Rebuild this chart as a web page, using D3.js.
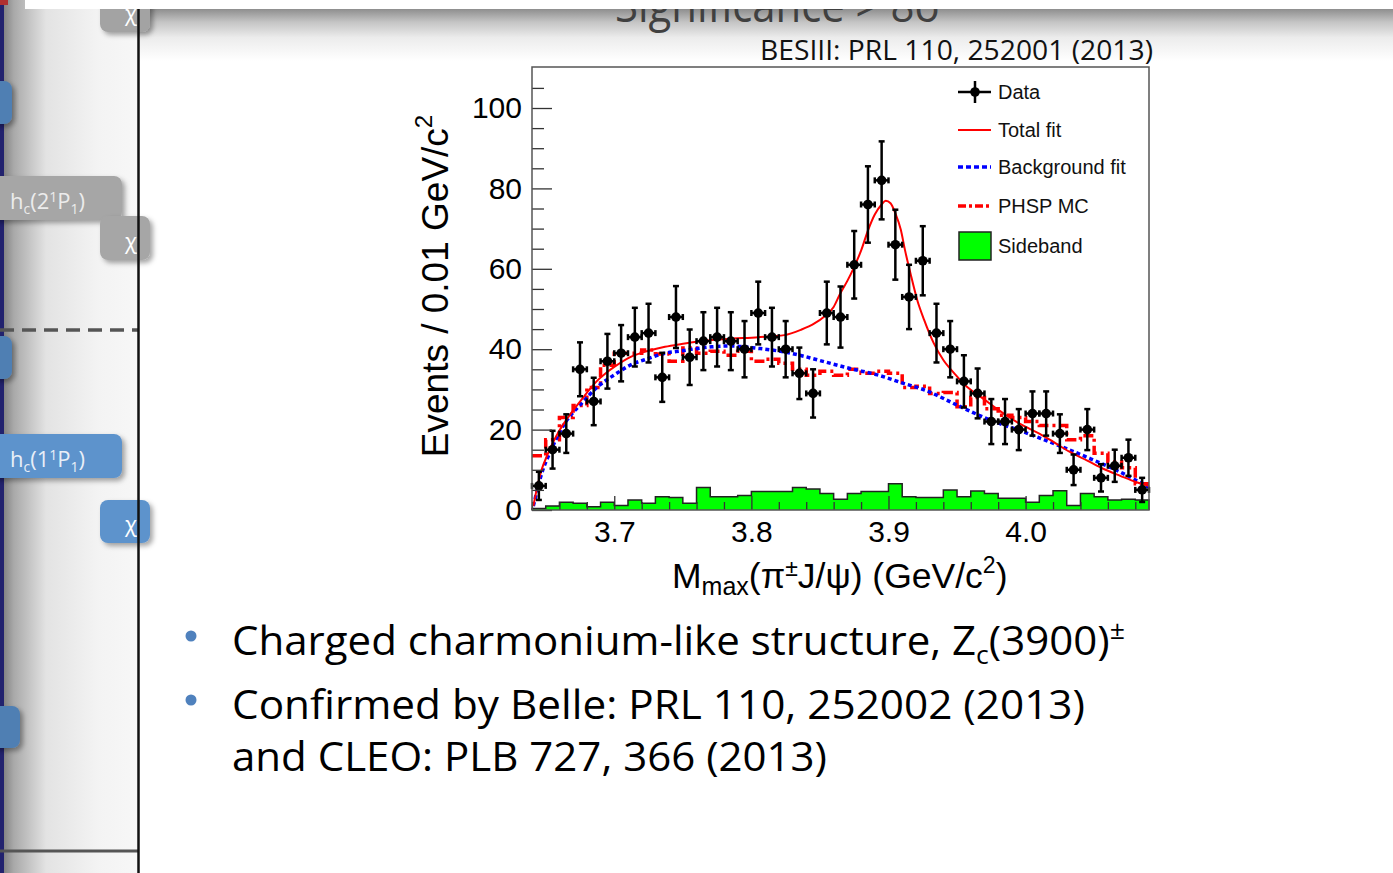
<!DOCTYPE html>
<html>
<head>
<meta charset="utf-8">
<script src="https://cdn.jsdelivr.net/npm/d3@7/dist/d3.min.js"></script>
<style>
  body { margin: 0; background: #fff; }
  svg { display: block; }
</style>
</head>
<body>
<script>
// data (counts per 0.01 GeV bin)
var binCenters = [3.645, 3.655, 3.665, 3.675, 3.685, 3.695, 3.705, 3.715, 3.725, 3.735,
  3.745, 3.755, 3.765, 3.775, 3.785, 3.795, 3.805, 3.815, 3.825, 3.835,
  3.845, 3.855, 3.865, 3.875, 3.885, 3.895, 3.905, 3.915, 3.925, 3.935,
  3.945, 3.955, 3.965, 3.975, 3.985, 3.995, 4.005, 4.015, 4.025, 4.035,
  4.045, 4.055, 4.065, 4.075, 4.085];
var dataCounts = [6, 15, 19, 35, 27, 37, 39, 43, 44, 33,
  48, 38, 42, 43, 42, 40, 49, 43, 40, 34,
  29, 49, 48, 61, 76, 82, 66, 53, 62, 44,
  40, 32, 29, 22, 22, 20, 24, 24, 19, 10,
  20, 8, 11, 13, 5];
var dataErrors = [3.5, 4.7, 4.8, 6.7, 5.9, 6.8, 7.0, 7.3, 7.3, 6.1,
  7.7, 6.9, 7.2, 7.3, 7.2, 7.0, 7.8, 7.3, 7.0, 6.4,
  6.0, 7.8, 7.6, 8.4, 9.5, 9.7, 8.7, 8.0, 8.6, 7.3,
  7.0, 6.5, 6.2, 5.6, 5.6, 5.1, 5.5, 5.5, 4.8, 3.8,
  5.1, 3.4, 4.0, 4.5, 3.0];
var sidebandCounts = [0.4, 1.0, 1.9, 1.7, 0.8, 1.9, 1.1, 2.5, 1.7, 3.3,
  3.1, 1.7, 5.6, 3.3, 3.3, 3.6, 4.6, 4.6, 4.6, 5.6,
  5.2, 4.1, 2.7, 4.1, 4.6, 4.6, 6.5, 3.3, 3.1, 3.1,
  5.0, 3.3, 4.7, 4.1, 2.9, 2.9, 1.9, 3.6, 4.8, 1.1,
  4.1, 3.3, 2.5, 2.7, 2.5];
var phspCounts = [13.5, 17.5, 23, 26, 30.5, 36, 39, 39, 39.8, 38.8,
  37, 40.3, 39, 39.5, 38.5, 39.5, 37, 37.5, 36.5, 35,
  33.5, 34.5, 33.5, 35, 34, 34.5, 34, 30.5, 30.8, 29,
  29.2, 25.7, 28, 25.2, 23.6, 23, 22, 21, 21, 17.5,
  18.5, 14.1, 12, 10.5, 6.5];
var totalFitMass = [3.641, 3.644, 3.647, 3.651, 3.655, 3.660, 3.665, 3.670, 3.676, 3.682,
  3.688, 3.694, 3.700, 3.712, 3.725, 3.737, 3.749, 3.761, 3.780, 3.805,
  3.824, 3.836, 3.846, 3.853, 3.860, 3.865, 3.870, 3.875, 3.880, 3.885,
  3.890, 3.895, 3.898, 3.9015, 3.905, 3.909, 3.912, 3.916, 3.921, 3.926,
  3.933, 3.940, 3.948, 3.957, 3.967, 3.977, 3.986, 3.996, 4.010, 4.020,
  4.032, 4.045, 4.057, 4.069, 4.081, 4.090];
var totalFitValue = [1, 6, 10, 13.5, 16.6, 19.8, 22.4, 24.8, 27.4, 30,
  32.3, 34.1, 35.6, 38.1, 39.6, 40.6, 41.3, 41.9, 42.5, 43,
  43.5, 44.8, 46.4, 48.1, 50.5, 54, 57, 60.5, 64.5, 69.5,
  73.5, 76, 76.9, 76.3, 73.8, 69.7, 64.7, 58.9, 52.2, 47.3,
  41.5, 37.3, 34, 30.7, 28.2, 25.7, 23.5, 21.4, 19, 17,
  14.5, 12.3, 10.2, 8.5, 6.9, 6];
var bkgFitMass = [3.641, 3.647, 3.654, 3.664, 3.676, 3.688, 3.700, 3.712, 3.725, 3.737,
  3.749, 3.761, 3.771, 3.785, 3.805, 3.819, 3.834, 3.853, 3.872, 3.892,
  3.911, 3.926, 3.950, 3.974, 3.998, 4.023, 4.047, 4.071, 4.090];
var bkgFitValue = [1, 9, 15, 21.6, 26.5, 30.7, 33.6, 36.1, 37.7, 39,
  39.6, 40.2, 40.6, 40.8, 40.2, 39.6, 38.6, 36.9, 35.2, 33.6,
  31.5, 29.9, 26.1, 22.4, 19.5, 16.2, 12.8, 9.1, 5.6];
var xTickValues = [3.7, 3.8, 3.9, 4.0];
var xTickLabels = ["3.7", "3.8", "3.9", "4.0"];
var xMinorTicks = [3.64, 3.66, 3.68, 3.72, 3.74, 3.76, 3.78, 3.82, 3.84, 3.86, 3.88,
  3.92, 3.94, 3.96, 3.98, 4.02, 4.04, 4.06, 4.08];
var yTickValues = [0, 20, 40, 60, 80, 100];
var yMinorTicks = [5, 10, 15, 25, 30, 35, 45, 50, 55, 65, 70, 75, 85, 90, 95, 105];
var legendLabels = ["Data", "Total fit", "Background fit", "PHSP MC", "Sideband"];

var svg = d3.select("body").append("svg")
  .attr("width", 1393)
  .attr("height", 873);

var defs = svg.append("defs");

// left side panel gradient
var lg = defs.append("linearGradient").attr("id", "panelGrad");
lg.append("stop").attr("offset", "0").attr("stop-color", "#808080");
lg.append("stop").attr("offset", "0.08").attr("stop-color", "#a9a9a9");
lg.append("stop").attr("offset", "0.32").attr("stop-color", "#e3e3e3");
lg.append("stop").attr("offset", "0.7").attr("stop-color", "#f3f3f3");
lg.append("stop").attr("offset", "1").attr("stop-color", "#f7f7f7");

// top shadow band gradient
var tg = defs.append("linearGradient").attr("id", "topGrad")
  .attr("x1", 0).attr("y1", 0).attr("x2", 0).attr("y2", 1);
tg.append("stop").attr("offset", "0").attr("stop-color", "#8e8e8e");
tg.append("stop").attr("offset", "0.25").attr("stop-color", "#c4c4c4");
tg.append("stop").attr("offset", "0.55").attr("stop-color", "#ececec");
tg.append("stop").attr("offset", "1").attr("stop-color", "#ffffff");

var sh = defs.append("filter").attr("id", "shadow")
  .attr("x", "-20%").attr("y", "-20%").attr("width", "150%").attr("height", "170%");
sh.append("feDropShadow").attr("dx", 3).attr("dy", 3).attr("stdDeviation", 2.5)
  .attr("flood-color", "#000").attr("flood-opacity", 0.35);

// ---- slide background pieces ----
svg.append("rect").attr("x", 3).attr("y", 0).attr("width", 135).attr("height", 873)
  .attr("fill", "url(#panelGrad)");
svg.append("rect").attr("x", 0).attr("y", 0).attr("width", 4).attr("height", 873)
  .attr("fill", "#22226e");
svg.append("rect").attr("x", 138).attr("y", 9).attr("width", 1255).attr("height", 52)
  .attr("fill", "url(#topGrad)");

// boxes on the level diagram (cut off by the slide)
var boxes = [
  {x: 100, y: -10, w: 50, h: 42, c: "#a3a3a3", t: "χ"},
  {x: -10, y: 81, w: 22, h: 43, c: "#4f7fb3", t: ""},
  {x: -10, y: 176, w: 132, h: 44, c: "#a6a6a6", t: "h"},
  {x: 100, y: 216, w: 50, h: 44, c: "#a6a6a6", t: "χ"},
  {x: -10, y: 336, w: 22, h: 43, c: "#4f7fb3", t: ""},
  {x: -10, y: 434, w: 132, h: 44, c: "#5d93cc", t: "h"},
  {x: 100, y: 500, w: 50, h: 43, c: "#5d93cc", t: "χ"},
  {x: -10, y: 706, w: 30, h: 42, c: "#4f7fb3", t: ""}
];
svg.append("g").selectAll("rect").data(boxes).enter().append("rect")
  .attr("x", d => d.x).attr("y", d => d.y)
  .attr("width", d => d.w).attr("height", d => d.h)
  .attr("rx", 8).attr("fill", d => d.c)
  .attr("filter", "url(#shadow)");

var boxText = svg.append("g").attr("font-family", "'Open Sans', sans-serif")
  .attr("font-size", 22);
boxes.filter(d => d.t === "χ").forEach(function(d) {
  boxText.append("text").attr("x", 125).attr("y", d.y + d.h - 11)
    .attr("fill", "#ffffff").text("χ");
});
function levelLabel(y, n, fill) {
  var t = boxText.append("text").attr("x", 10).attr("y", y).attr("fill", fill);
  t.append("tspan").text("h");
  t.append("tspan").attr("font-size", 14).attr("dy", 5).text("c");
  t.append("tspan").attr("dy", -5).text("(" + n);
  t.append("tspan").attr("font-size", 14).attr("dy", -7).text("1");
  t.append("tspan").attr("dy", 7).text("P");
  t.append("tspan").attr("font-size", 14).attr("dy", 5).text("1");
  t.append("tspan").attr("dy", -5).text(")");
}
levelLabel(209, "2", "#ececec");
levelLabel(467, "1", "#e9eff8");

svg.append("line").attr("x1", 0).attr("x2", 138).attr("y1", 330).attr("y2", 330)
  .attr("stroke", "#555").attr("stroke-width", 3.5).attr("stroke-dasharray", "14,8");
svg.append("line").attr("x1", 0).attr("x2", 138).attr("y1", 851).attr("y2", 851)
  .attr("stroke", "#555").attr("stroke-width", 3);
svg.append("line").attr("x1", 138.5).attr("x2", 138.5).attr("y1", 0).attr("y2", 873)
  .attr("stroke", "#111").attr("stroke-width", 2.5);

// title cut off at the top of the slide
svg.append("text").attr("x", 615).attr("y", 22)
  .attr("font-family", "'Open Sans', sans-serif").attr("font-size", 46)
  .attr("fill", "#404040").attr("textLength", 325).attr("lengthAdjust", "spacingAndGlyphs")
  .text("Significance > 8σ");
svg.append("rect").attr("x", 25).attr("y", 0).attr("width", 1368).attr("height", 9)
  .attr("fill", "#fff");
svg.append("rect").attr("x", 0).attr("y", 0).attr("width", 8).attr("height", 5)
  .attr("fill", "#b03030");

svg.append("text").attr("x", 760).attr("y", 60)
  .attr("font-family", "'Open Sans', sans-serif").attr("font-size", 27)
  .attr("fill", "#111").attr("textLength", 393).attr("lengthAdjust", "spacingAndGlyphs")
  .text("BESIII: PRL 110, 252001 (2013)");

// ---- the histogram plot ----
var x = d3.scaleLinear().domain([3.64, 4.09]).range([532, 1149]);
var y = d3.scaleLinear().domain([0, 110.2]).range([510, 67]);
var halfBin = 0.005;

var plot = svg.append("g");
plot.append("rect").attr("x", 532).attr("y", 67).attr("width", 617).attr("height", 443)
  .attr("fill", "#fff");

// sideband histogram
var sbSteps = binCenters.map((m, i) => [m - halfBin, sidebandCounts[i]]);
sbSteps.push([4.09, sidebandCounts[sidebandCounts.length - 1]]);
plot.append("path").datum(sbSteps)
  .attr("d", d3.area().curve(d3.curveStepAfter)
    .x(d => x(d[0])).y0(y(0)).y1(d => y(d[1])))
  .attr("fill", "#00ff00");
var sbOutline = [[3.64, 0]].concat(sbSteps).concat([[4.09, 0]]);
plot.append("path").datum(sbOutline)
  .attr("d", d3.line().curve(d3.curveStepAfter).x(d => x(d[0])).y(d => y(d[1])))
  .attr("fill", "none").attr("stroke", "#222").attr("stroke-width", 1.5);

// PHSP MC histogram
var phSteps = binCenters.map((m, i) => [m - halfBin, phspCounts[i]]);
phSteps.push([4.09, phspCounts[phspCounts.length - 1]]);
plot.append("path").datum(phSteps)
  .attr("d", d3.line().curve(d3.curveStepAfter).x(d => x(d[0])).y(d => y(d[1])))
  .attr("fill", "none").attr("stroke", "#ff0000").attr("stroke-width", 3.5)
  .attr("stroke-dasharray", "10,4,3,4");

// background fit
var bkgPts = bkgFitMass.map((m, i) => [m, bkgFitValue[i]]);
plot.append("path").datum(bkgPts)
  .attr("d", d3.line().curve(d3.curveMonotoneX).x(d => x(d[0])).y(d => y(d[1])))
  .attr("fill", "none").attr("stroke", "#0000ff").attr("stroke-width", 3.5)
  .attr("stroke-dasharray", "4,3");

// total fit
var totPts = totalFitMass.map((m, i) => [m, totalFitValue[i]]);
plot.append("path").datum(totPts)
  .attr("d", d3.line().curve(d3.curveMonotoneX).x(d => x(d[0])).y(d => y(d[1])))
  .attr("fill", "none").attr("stroke", "#ff0000").attr("stroke-width", 2);

// data points with error bars
var pts = plot.append("g").attr("stroke", "#000").attr("stroke-width", 2.5);
binCenters.forEach(function(m, i) {
  var cx = x(m), cy = y(dataCounts[i]);
  var top = y(dataCounts[i] + dataErrors[i]), bot = y(dataCounts[i] - dataErrors[i]);
  var l = x(m - halfBin), r = x(m + halfBin);
  pts.append("line").attr("x1", cx).attr("x2", cx).attr("y1", top).attr("y2", bot);
  pts.append("line").attr("x1", l).attr("x2", r).attr("y1", cy).attr("y2", cy);
  pts.append("line").attr("x1", cx - 3).attr("x2", cx + 3).attr("y1", top).attr("y2", top);
  pts.append("line").attr("x1", cx - 3).attr("x2", cx + 3).attr("y1", bot).attr("y2", bot);
  pts.append("line").attr("x1", l).attr("x2", l).attr("y1", cy - 3).attr("y2", cy + 3);
  pts.append("line").attr("x1", r).attr("x2", r).attr("y1", cy - 3).attr("y2", cy + 3);
  pts.append("circle").attr("cx", cx).attr("cy", cy).attr("r", 4.8)
    .attr("fill", "#000").attr("stroke", "none");
});

// axes (ticks point inside the frame, as ROOT draws them)
var xAxis = d3.axisBottom(x).tickValues(xTickValues)
  .tickFormat((d, i) => xTickLabels[i]).tickSize(-14).tickPadding(11);
var xAxisG = plot.append("g").attr("transform", "translate(0,510)").call(xAxis);
plot.append("g").attr("transform", "translate(0,510)")
  .call(d3.axisBottom(x).tickValues(xMinorTicks).tickSize(-8).tickFormat(""));

var yAxis = d3.axisLeft(y).tickValues(yTickValues).tickSize(-20).tickPadding(10);
var yAxisG = plot.append("g").attr("transform", "translate(532,0)").call(yAxis);
plot.append("g").attr("transform", "translate(532,0)")
  .call(d3.axisLeft(y).tickValues(yMinorTicks).tickSize(-12).tickFormat(""));

plot.selectAll(".domain").remove();
plot.selectAll(".tick line").attr("stroke", "#333").attr("stroke-width", 1.3);
plot.selectAll(".tick text").attr("font-family", "'Liberation Sans', Arial, sans-serif")
  .attr("font-size", 30).attr("fill", "#000");

plot.append("rect").attr("x", 532).attr("y", 67).attr("width", 617).attr("height", 443)
  .attr("fill", "none").attr("stroke", "#555").attr("stroke-width", 1.5);

// axis titles
var yt = plot.append("text")
  .attr("transform", "translate(448,286) rotate(-90)")
  .attr("text-anchor", "middle")
  .attr("font-family", "'Liberation Sans', Arial, sans-serif")
  .attr("font-size", 37).attr("fill", "#000");
yt.append("tspan").text("Events / 0.01 GeV/c");
yt.append("tspan").attr("font-size", 24).attr("dy", -16).text("2");

var xt = plot.append("text").attr("x", 672).attr("y", 588)
  .attr("font-family", "'Liberation Sans', Arial, sans-serif")
  .attr("font-size", 35.5).attr("fill", "#000");
xt.append("tspan").text("M");
xt.append("tspan").attr("font-size", 25).attr("dy", 7).text("max");
xt.append("tspan").attr("dy", -7).text("(π");
xt.append("tspan").attr("font-size", 23).attr("dy", -12).text("±");
xt.append("tspan").attr("dy", 12).text("J/ψ) (GeV/c");
xt.append("tspan").attr("font-size", 23).attr("dy", -15).text("2");
xt.append("tspan").attr("dy", 15).text(")");

// legend
var legY = [92, 130, 167, 206, 246];
var leg = plot.append("g");
leg.selectAll("text").data(legendLabels).enter().append("text")
  .attr("x", 998).attr("y", (d, i) => legY[i] + 7)
  .attr("font-family", "'Liberation Sans', Arial, sans-serif")
  .attr("font-size", 20).attr("fill", "#111")
  .text(d => d);
leg.append("line").attr("x1", 958).attr("x2", 991).attr("y1", legY[0]).attr("y2", legY[0])
  .attr("stroke", "#000").attr("stroke-width", 2.5);
leg.append("line").attr("x1", 975).attr("x2", 975).attr("y1", legY[0] - 11).attr("y2", legY[0] + 11)
  .attr("stroke", "#000").attr("stroke-width", 2.5);
leg.append("circle").attr("cx", 975).attr("cy", legY[0]).attr("r", 4.8).attr("fill", "#000");
leg.append("line").attr("x1", 958).attr("x2", 991).attr("y1", legY[1]).attr("y2", legY[1])
  .attr("stroke", "#ff0000").attr("stroke-width", 2);
leg.append("line").attr("x1", 958).attr("x2", 991).attr("y1", legY[2]).attr("y2", legY[2])
  .attr("stroke", "#0000ff").attr("stroke-width", 3.5).attr("stroke-dasharray", "5,3");
leg.append("line").attr("x1", 958).attr("x2", 991).attr("y1", legY[3]).attr("y2", legY[3])
  .attr("stroke", "#ff0000").attr("stroke-width", 3.5).attr("stroke-dasharray", "8,3,3,3");
leg.append("rect").attr("x", 959).attr("y", 232).attr("width", 32).attr("height", 28)
  .attr("fill", "#00ff00").attr("stroke", "#222").attr("stroke-width", 1.5);

// ---- bullet text ----
var bullets = svg.append("g").attr("font-family", "'Open Sans', sans-serif")
  .attr("font-size", 41).attr("fill", "#000");
svg.append("circle").attr("cx", 191).attr("cy", 636).attr("r", 5.5).attr("fill", "#4f81bd");
svg.append("circle").attr("cx", 191).attr("cy", 700).attr("r", 5.5).attr("fill", "#4f81bd");

var b1 = bullets.append("text").attr("x", 232).attr("y", 655)
  .attr("textLength", 893).attr("lengthAdjust", "spacingAndGlyphs");
b1.append("tspan").text("Charged charmonium-like structure, Z");
b1.append("tspan").attr("font-size", 26).attr("dy", 9).text("c");
b1.append("tspan").attr("dy", -9).text("(3900)");
b1.append("tspan").attr("font-size", 26).attr("dy", -16).text("±");
bullets.append("text").attr("x", 232).attr("y", 719)
  .attr("textLength", 853).attr("lengthAdjust", "spacingAndGlyphs")
  .text("Confirmed by Belle: PRL 110, 252002 (2013)");
bullets.append("text").attr("x", 232).attr("y", 771)
  .attr("textLength", 595).attr("lengthAdjust", "spacingAndGlyphs")
  .text("and CLEO: PLB 727, 366 (2013)");
</script>
</body>
</html>
